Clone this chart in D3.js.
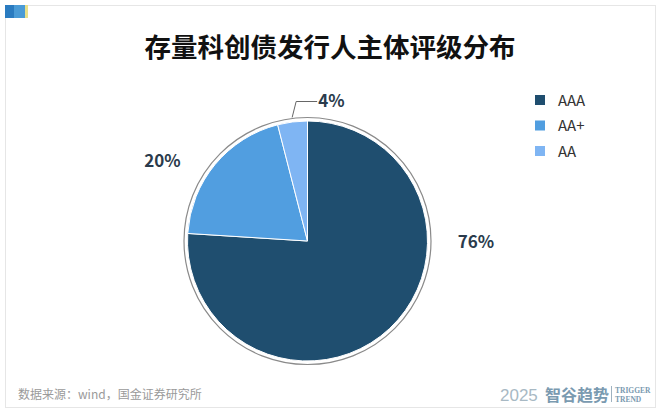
<!DOCTYPE html>
<html><head><meta charset="utf-8">
<script src="https://cdn.jsdelivr.net/npm/d3@7"></script>
<style>body{margin:0;background:#fff}svg{display:block}</style>
</head><body>
<svg id="c" width="660" height="413"></svg>
<script>
const categories = ["AAA", "AA+", "AA"];
const values = [76, 20, 4];
const labels = ["76%", "20%", "4%"];
const colors = ["#1f4e6f", "#519ee0", "#7fb5f3"];

const svg = d3.select("#c");
const font = "'Noto Sans CJK SC','Noto Sans',sans-serif";

// frame
svg.append("rect").attr("x", 5.5).attr("y", 5.5).attr("width", 650).attr("height", 402)
  .attr("fill", "#fff").attr("stroke", "#e6e6e6").attr("stroke-width", 1);
// corner decoration
svg.append("rect").attr("x", 5).attr("y", 5).attr("width", 9).attr("height", 13).attr("fill", "#2a7bc0");
svg.append("rect").attr("x", 14).attr("y", 5).attr("width", 11).attr("height", 13).attr("fill", "#4a9bd6");
svg.append("rect").attr("x", 25).attr("y", 5).attr("width", 3).attr("height", 13).attr("fill", "#e8e08a");

// title
svg.append("text").attr("x", 330).attr("y", 57).attr("text-anchor", "middle")
  .attr("font-family", font).attr("font-weight", 700).attr("font-size", 26.5)
  .attr("fill", "#111").text("存量科创债发行人主体评级分布");

// pie
const cx = 307.5, cy = 241, r = 120, ringR = 123.5;
const g = svg.append("g").attr("transform", `translate(${cx},${cy})`);
g.append("circle").attr("r", ringR).attr("fill", "none").attr("stroke", "#8a8a8a").attr("stroke-width", 1.2);
const pie = d3.pie().sort(null).value(d => d)(values);
const arc = d3.arc().innerRadius(0).outerRadius(r);
g.selectAll("path.s").data(pie).enter().append("path").attr("class", "s")
  .attr("d", arc).attr("fill", (d, i) => colors[i]).attr("stroke", "#fff").attr("stroke-width", 1);

// labels
const lab = svg.append("g").attr("font-family", font).attr("font-weight", 700)
  .attr("font-size", 17).attr("fill", "#2a3b4c");
// 76% to the right of the pie
lab.append("text").attr("x", cx + ringR + 45).attr("y", cy + 7)
  .attr("text-anchor", "middle").text(labels[0]);
// 20% upper left
lab.append("text").attr("x", cx - 145).attr("y", cy - 74)
  .attr("text-anchor", "middle").text(labels[1]);
// 4% with leader
const a2 = (pie[2].startAngle + pie[2].endAngle) / 2;
const p0 = [cx + Math.sin(a2) * (ringR - 1), cy - Math.cos(a2) * (ringR - 1) - 2];
const p1 = [p0[0] + 4, 101.5];
const p2 = [p1[0] + 21, 101.5];
svg.append("polyline").attr("points", [p0, p1, p2].map(p => p.join(",")).join(" "))
  .attr("fill", "none").attr("stroke", "#666").attr("stroke-width", 1);
lab.append("text").attr("x", p2[0] + 1).attr("y", 107).attr("text-anchor", "start").text(labels[2]);

// legend
const lg = svg.append("g").attr("font-family", font).attr("font-size", 15).attr("fill", "#333");
categories.forEach((c, i) => {
  const y = 100 + i * 25.5;
  lg.append("rect").attr("x", 535).attr("y", y - 5).attr("width", 10).attr("height", 10).attr("fill", colors[i]);
  lg.append("text").attr("x", 558).attr("y", y + 5.5).text(c);
});

// footer
svg.append("text").attr("x", 18).attr("y", 399).attr("font-family", font).attr("font-size", 12)
  .attr("fill", "#9a9a9a").text("数据来源：wind，国金证券研究所");
svg.append("text").attr("x", 500).attr("y", 401).attr("font-family", "'Liberation Sans',sans-serif").attr("font-size", 17)
  .attr("fill", "#a8b9c4").attr("font-weight", 300).text("2025");
svg.append("text").attr("x", 545).attr("y", 401).attr("font-family", "'Noto Sans CJK SC'").attr("font-size", 16)
  .attr("font-weight", 700).attr("fill", "#7a9ab0").text("智谷趋势");
svg.append("line").attr("x1", 611.5).attr("x2", 611.5).attr("y1", 386).attr("y2", 402).attr("stroke", "#9fb2c0");
svg.append("text").attr("x", 615).attr("y", 393).attr("font-family", "'Liberation Serif',serif").attr("font-size", 7.5)
  .attr("font-weight", 700).attr("fill", "#7a9ab0").text("TRIGGER");
svg.append("text").attr("x", 615).attr("y", 402).attr("font-family", "'Liberation Serif',serif").attr("font-size", 7.5)
  .attr("font-weight", 700).attr("fill", "#7a9ab0").text("TREND");
</script>
</body></html>
